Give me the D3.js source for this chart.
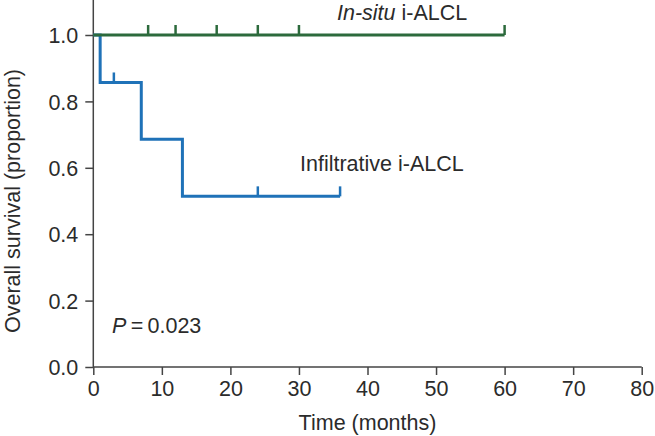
<!DOCTYPE html>
<html>
<head>
<meta charset="utf-8">
<script src="https://cdn.jsdelivr.net/npm/d3@7"></script>
<style>
  html, body { margin: 0; padding: 0; background: #fff; }
  text { font-family: "Liberation Sans", Arial, Helvetica, sans-serif; fill: #2b2b2b; }
</style>
</head>
<body>
<svg id="chart" width="655" height="436"></svg>
<script>
// ---- Data ----
const xTicks = [0, 10, 20, 30, 40, 50, 60, 70, 80];
const yTicks = [0.0, 0.2, 0.4, 0.6, 0.8, 1.0];

// In-situ i-ALCL: step points (time, survival), censor marks, end
const insituSteps = [[0, 1.0], [60, 1.0]];
const insituCensor = [8, 12, 18, 24, 30, 60];
const insituSurv = 1.0;

// Infiltrative i-ALCL
const infilTimes = [0, 1, 7, 13, 36];
const infilSurv = [1.0, 0.857, 0.686, 0.514, 0.514];
const infilCensor = [[3, 0.857], [24, 0.514], [36, 0.514]];

const insituColor = "#2c6a3c";
const infilColor = "#1f72b8";

// ---- Layout ----
const svg = d3.select("#chart");
const x = d3.scaleLinear().domain([0, 80]).range([93.3, 641.7]);
const y = d3.scaleLinear().domain([0, 1]).range([367, 35]);
const axisColor = "#444";

// axes
const gx = svg.append("g").attr("transform", "translate(0,367)")
  .call(d3.axisBottom(x).tickValues(xTicks).tickFormat(d3.format("d")).tickSize(8).tickPadding(6).tickSizeOuter(0));
const gy = svg.append("g").attr("transform", "translate(93.3,0)")
  .call(d3.axisLeft(y).tickValues(yTicks).tickFormat(d3.format(".1f")).tickSize(8).tickPadding(7).tickSizeOuter(0));
[gx, gy].forEach(g => {
  g.selectAll("path.domain").remove();
  g.selectAll("line").attr("stroke", axisColor).attr("stroke-width", 1.5);
  g.selectAll("text").style("font-size", "21.5px").attr("fill", "#2b2b2b")
    .style("font-family", '"Liberation Sans", Arial, sans-serif');
});
gy.selectAll("text").attr("dy", "0.36em");
// axis lines
svg.append("line").attr("x1", 93.3).attr("x2", 93.3).attr("y1", 0).attr("y2", 367)
  .attr("stroke", axisColor).attr("stroke-width", 1.5);
svg.append("line").attr("x1", 93.3).attr("x2", x(80)).attr("y1", 367).attr("y2", 367)
  .attr("stroke", axisColor).attr("stroke-width", 1.5);

// axis titles
svg.append("text").attr("x", (x(0) + x(80)) / 2).attr("y", 430)
  .attr("text-anchor", "middle").style("font-size", "21.5px").text("Time (months)");
svg.append("text").attr("transform", "translate(20," + ((y(0) + y(1)) / 2) + ") rotate(-90)")
  .attr("text-anchor", "middle").style("font-size", "21.5px").text("Overall survival (proportion)");

// curves
const stepLine = d3.line().x(d => x(d[0])).y(d => y(d[1])).curve(d3.curveStepAfter);
svg.append("path").datum(infilTimes.map((t, i) => [t, infilSurv[i]]))
  .attr("d", stepLine).attr("fill", "none").attr("stroke", infilColor).attr("stroke-width", 3);
svg.append("path").datum(insituSteps)
  .attr("d", stepLine).attr("fill", "none").attr("stroke", insituColor).attr("stroke-width", 3);

// censor marks
svg.selectAll("line.cg").data(insituCensor).join("line").attr("class", "cg")
  .attr("x1", d => x(d)).attr("x2", d => x(d))
  .attr("y1", y(insituSurv)).attr("y2", y(insituSurv) - 10)
  .attr("stroke", insituColor).attr("stroke-width", 2.5);
svg.selectAll("line.cb").data(infilCensor).join("line").attr("class", "cb")
  .attr("x1", d => x(d[0])).attr("x2", d => x(d[0]))
  .attr("y1", d => y(d[1])).attr("y2", d => y(d[1]) - 10)
  .attr("stroke", infilColor).attr("stroke-width", 2.5);

// labels
const t1 = svg.append("text").attr("x", 337).attr("y", 20).style("font-size", "21.5px");
t1.append("tspan").style("font-style", "italic").text("In-situ");
t1.append("tspan").text(" i-ALCL");
svg.append("text").attr("x", 300).attr("y", 171).style("font-size", "21.5px").text("Infiltrative i-ALCL");
const tp = svg.append("text").attr("x", 112).attr("y", 333).style("font-size", "21.5px");
tp.append("tspan").style("font-style", "italic").text("P");
tp.append("tspan").text("\u2009=\u20090.023");
</script>
</body>
</html>
